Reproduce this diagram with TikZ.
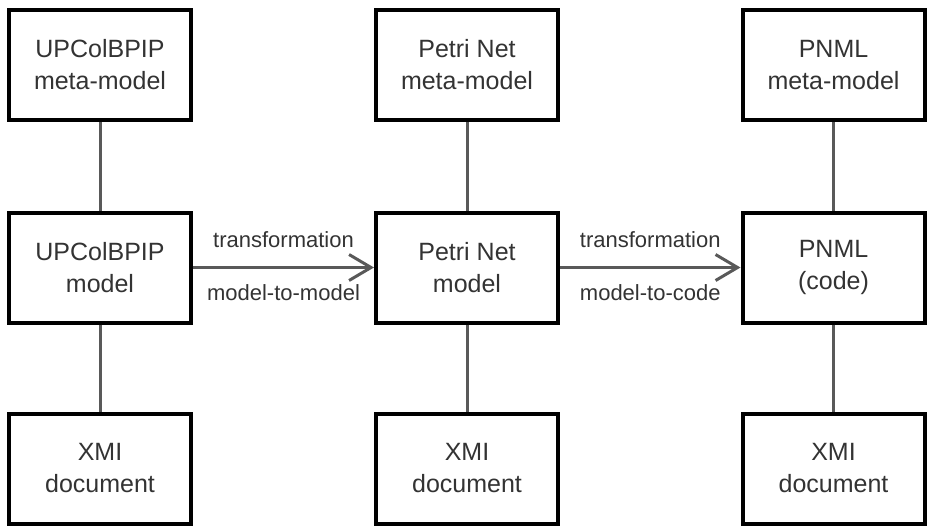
\documentclass[tikz,border=0pt]{standalone}
\usepackage{fontspec}
\setmainfont{Liberation Sans}
\usetikzlibrary{arrows.meta}
\begin{document}
\begin{tikzpicture}[x=1pt,y=-1pt,
  box/.style={draw=black,line width=4pt,fill=white,minimum width=182pt,minimum height=110pt,
    align=center,text=black!80,font=\fontsize{25}{32}\selectfont},
  link/.style={draw=black!65,line width=3pt},
  trans/.style={link,-{Straight Barb[length=22pt,width=26pt]}},
  lbl/.style={text=black!80,font=\fontsize{22}{26}\selectfont,anchor=base}]
\useasboundingbox (0,0) rectangle (928,528);
% top row
\node [box] (meta1) at (100,65) {UPColBPIP\\meta-model};
\node [box] (meta2) at (467,65) {Petri Net\\meta-model};
\node [box] (meta3) at (833.5,65) {PNML\\meta-model};
% middle row
\node [box] (model1) at (100,267.5) {UPColBPIP\\model};
\node [box] (model2) at (467,267.5) {Petri Net\\model};
\node [box] (model3) at (833.5,267.5) {PNML\\(code)};
% bottom row
\node [box] (xmi1) at (100,468.5) {XMI\\document};
\node [box] (xmi2) at (467,468.5) {XMI\\document};
\node [box] (xmi3) at (833.5,468.5) {XMI\\document};
% links
\draw [link] (meta1) -- (model1) -- (xmi1);
\draw [link] (meta2) -- (model2) -- (xmi2);
\draw [link] (meta3) -- (model3) -- (xmi3);
\draw [trans] (model1) -- (model2)
  node [lbl,midway,yshift=20pt] {transformation}
  node [lbl,midway,yshift=-33pt] {model-to-model};
\draw [trans] (model2) -- (model3)
  node [lbl,midway,yshift=20pt] {transformation}
  node [lbl,midway,yshift=-33pt] {model-to-code};
\end{tikzpicture}
\end{document}
